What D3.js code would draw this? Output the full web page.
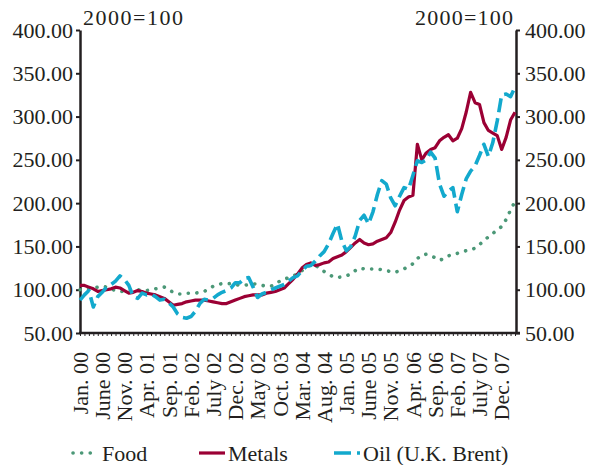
<!DOCTYPE html>
<html>
<head>
<meta charset="utf-8">
<script src="https://cdn.jsdelivr.net/npm/d3@7/dist/d3.min.js"></script>
<style>
body { margin: 0; background: #ffffff; }
svg text { font-family: "Liberation Serif", "Times New Roman", serif; fill: #231f20; }
</style>
</head>
<body>
<svg class="chart_svg" width="592" height="465"></svg>
<script>
/* Tick labels on the time axis, one every five months */
let month_labels = ["Jan. 00", "June 00", "Nov. 00", "Apr. 01", "Sep. 01", "Feb. 02", "July 02", "Dec. 02",
    "May 02", "Oct. 03", "Mar. 04", "Aug. 04", "Jan. 05", "June 05", "Nov. 05", "Apr. 06",
    "Sep. 06", "Feb. 07", "July 07", "Dec. 07"];

let y_ticks = [50, 100, 150, 200, 250, 300, 350, 400];

/* Monthly indices, 2000=100 (Jan 2000 .. Mar 2008) */
let food = [100, 100, 101, 102, 103, 104, 103, 101, 99, 98, 98, 99, 100, 100, 99, 99, 100, 101, 102, 103,
    100, 97, 95, 95, 96, 96, 96, 97, 98, 101, 104, 106, 107, 107, 107, 106, 105, 105, 106, 107,
    106, 105, 104, 104, 106, 110, 112, 114, 116, 118, 122, 126, 129, 128, 125, 121, 118, 115, 114, 115,
    116, 118, 122, 125, 124, 124, 124, 124, 123, 122, 121, 120, 122, 124, 127, 130, 136, 140, 141, 139,
    137, 134, 136, 139, 141, 142, 144, 145, 146, 148, 152, 157, 161, 165, 169, 173, 181, 192, 202];

let metals = [105, 105, 103, 101, 98, 99, 100, 101, 103, 102, 99, 96, 97, 99, 98, 96, 95, 94, 92, 90,
    86, 82, 83, 84, 86, 87, 88, 88, 88, 87, 86, 85, 84, 84, 86, 88, 90, 92, 93, 94,
    94, 94, 96, 97, 98, 100, 102, 107, 112, 118, 125, 129, 131, 128, 129, 131, 132, 136, 138, 140,
    144, 149, 154, 158, 154, 152, 153, 156, 158, 160, 166, 178, 192, 203, 207, 209, 268, 250, 258, 262,
    264, 272, 276, 279, 272, 275, 286, 305, 328, 316, 314, 293, 284, 281, 278, 262, 276, 296, 305];

let oil = [88, 94, 99, 80, 92, 97, 103, 106, 110, 116, 112, 105, 92, 90, 96, 94, 95, 92, 88, 89,
    85, 80, 72, 68, 67, 69, 75, 84, 89, 88, 90, 94, 97, 99, 102, 108, 108, 113, 114, 103,
    91, 95, 97, 100, 102, 104, 106, 110, 114, 116, 122, 127, 128, 133, 139, 144, 153, 165, 176, 156,
    145, 150, 162, 180, 186, 176, 190, 210, 226, 222, 206, 197, 208, 218, 216, 232, 249, 247, 250, 259,
    252, 222, 208, 214, 218, 190, 210, 228, 237, 243, 255, 268, 254, 270, 295, 325, 326, 323, 334];

let series = [
    {name: "Food", values: food, color: "#4b9877", width: 3.6, dash: "0.1,8.5", cap: "round", legend_x: 73},
    {name: "Metals", values: metals, color: "#9b0034", width: 3.2, dash: null, cap: "butt", legend_x: 199},
    {name: "Oil (U.K. Brent)", values: oil, color: "#13a9cd", width: 3.6, dash: "14,6", cap: "butt", legend_x: 334}
];

let svg = d3.select("svg.chart_svg");

let x = d3.scaleLinear().domain([0, 98]).range([80, 515]);
let y = d3.scaleLinear().domain([50, 400]).range([333, 30]);

let axis_color = "#231f20";

/* Left and right value axes */
let left_axis = svg.append("g")
    .attr("transform", "translate(80,0)")
    .call(d3.axisLeft(y).tickValues(y_ticks).tickFormat(d3.format(".2f")).tickSize(4).tickSizeOuter(0).tickPadding(3));

let right_axis = svg.append("g")
    .attr("transform", "translate(516,0)")
    .call(d3.axisRight(y).tickValues(y_ticks).tickFormat(d3.format(".2f")).tickSize(4).tickSizeOuter(0).tickPadding(5));

/* Time axis: small tick every month, label every 5 months */
let bottom_ticks = svg.append("g")
    .attr("transform", "translate(0,333)")
    .call(d3.axisBottom(x).tickValues(d3.range(0, 99)).tickFormat("").tickSize(3).tickSizeOuter(0));

let bottom_labels = svg.append("g")
    .attr("transform", "translate(0,333)")
    .call(d3.axisBottom(x).tickValues(d3.range(0, 96, 5)).tickFormat(function (d) {
        return month_labels[d / 5];
    }).tickSize(0));
bottom_labels.select(".domain").remove();
bottom_labels.selectAll("text")
    .attr("transform", "rotate(-90)")
    .attr("text-anchor", "end")
    .attr("x", -19)
    .attr("y", 0)
    .attr("dy", "0.33em");

[left_axis, right_axis, bottom_ticks, bottom_labels].forEach(function (g) {
    g.selectAll("text").style("font-size", "22px").style("font-family", null).attr("fill", axis_color);
    g.selectAll(".tick line").attr("stroke", axis_color).attr("stroke-width", 2);
    g.select(".domain").attr("stroke", axis_color).attr("stroke-width", 2.5);
});
bottom_ticks.selectAll(".tick line").attr("stroke-width", 1);
bottom_ticks.select(".domain").attr("d", "M79,0H520");

/* Index base notes */
svg.append("text").attr("x", 83).attr("y", 25).style("font-size", "22px")
    .attr("textLength", 100).attr("lengthAdjust", "spacing").text("2000=100");
svg.append("text").attr("x", 513).attr("y", 25).style("font-size", "22px").attr("text-anchor", "end")
    .attr("textLength", 98).attr("lengthAdjust", "spacing").text("2000=100");

/* Lines */
let line = d3.line()
    .x(function (d, i) { return x(i); })
    .y(function (d) { return y(d); });

series.forEach(function (s) {
    svg.append("path")
        .datum(s.values)
        .attr("fill", "none")
        .attr("stroke", s.color)
        .attr("stroke-width", s.width)
        .attr("stroke-dasharray", s.dash)
        .attr("stroke-linecap", s.cap)
        .attr("stroke-linejoin", "round")
        .attr("d", line);
});

/* Legend */
let legend = svg.append("g").attr("class", "legend");
series.forEach(function (s) {
    legend.append("line")
        .attr("x1", s.legend_x).attr("x2", s.legend_x + (s.name === "Food" ? 24 : 26))
        .attr("y1", 453).attr("y2", 453)
        .attr("stroke", s.color)
        .attr("stroke-width", s.width)
        .attr("stroke-dasharray", s.name === "Oil (U.K. Brent)" ? "17,6" : s.dash)
        .attr("stroke-linecap", s.cap);
    legend.append("text")
        .attr("x", s.legend_x + (s.name === "Food" ? 29 : 29))
        .attr("y", 461)
        .style("font-size", "22px")
        .text(s.name);
});
</script>
</body>
</html>
